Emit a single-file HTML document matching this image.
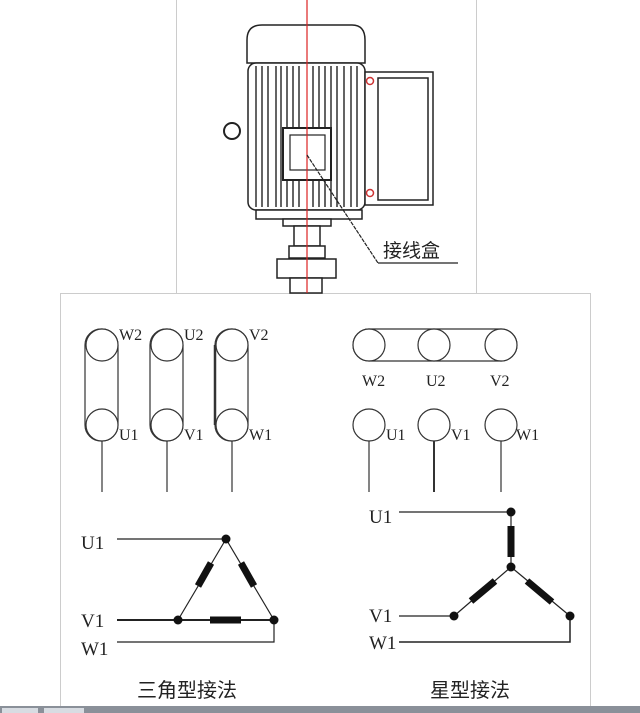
<!DOCTYPE html>
<html><head><meta charset="utf-8"><style>
html,body{margin:0;padding:0;background:#fff;width:640px;height:713px;overflow:hidden}
svg{display:block}
text{font-family:"Liberation Serif","Noto Serif CJK SC",serif;fill:#222}
.cj{font-family:"Liberation Sans","Noto Sans CJK SC",sans-serif}
</style></head><body>
<svg width="640" height="713" viewBox="0 0 640 713" xmlns="http://www.w3.org/2000/svg">
<g stroke="#ccc" stroke-width="1" fill="none">
<line x1="176.5" y1="0" x2="176.5" y2="293"/>
<line x1="476.5" y1="0" x2="476.5" y2="293"/>
<rect x="60.5" y="293.5" width="530" height="420"/>
</g>
<!-- motor -->
<g stroke="#222" stroke-width="1.5" fill="#fff">
<path d="M247 63 L247 40 Q247 25 262 25 L352 25 Q365 25 365 40 L365 63 Z"/>
<rect x="248" y="63" width="117" height="147" rx="8"/>
<rect x="256" y="210" width="106" height="9"/>
<rect x="283" y="219" width="48" height="7"/>
<rect x="294" y="226" width="26" height="20"/>
<rect x="289" y="246" width="36" height="12"/>
<rect x="277" y="259" width="59" height="19"/>
<rect x="290" y="278" width="32" height="15"/>
<rect x="365" y="72" width="68" height="133"/>
<rect x="378" y="78" width="50" height="122"/>
<circle cx="232" cy="131" r="8" stroke-width="2"/>
</g>
<g stroke="#222" stroke-width="1.4">
<line x1="256" y1="66" x2="256" y2="207"/><line x1="262" y1="66" x2="262" y2="207"/>
<line x1="268" y1="66" x2="268" y2="207"/><line x1="276" y1="66" x2="276" y2="207"/>
<line x1="281" y1="66" x2="281" y2="207"/><line x1="287" y1="66" x2="287" y2="207"/>
<line x1="293" y1="66" x2="293" y2="207"/><line x1="299" y1="66" x2="299" y2="207"/>
<line x1="313" y1="66" x2="313" y2="207"/><line x1="319" y1="66" x2="319" y2="207"/>
<line x1="325" y1="66" x2="325" y2="207"/><line x1="331" y1="66" x2="331" y2="207"/>
<line x1="337" y1="66" x2="337" y2="207"/><line x1="344" y1="66" x2="344" y2="207"/>
<line x1="351" y1="66" x2="351" y2="207"/><line x1="357" y1="66" x2="357" y2="207"/>
</g>
<rect x="283" y="128" width="48" height="52" fill="#fff" stroke="#222" stroke-width="2"/>
<rect x="290" y="135" width="35" height="35" fill="#fff" stroke="#222" stroke-width="1.2"/>
<line x1="307" y1="0" x2="307" y2="293" stroke="#d22" stroke-width="1.2"/>
<circle cx="370" cy="81" r="3.5" fill="none" stroke="#c33" stroke-width="1.5"/>
<circle cx="370" cy="193" r="3.5" fill="none" stroke="#c33" stroke-width="1.5"/>
<polyline points="307,155 378,263" fill="none" stroke="#222" stroke-width="1.2" stroke-dasharray="4,1"/>
<line x1="378" y1="263" x2="458" y2="263" stroke="#222" stroke-width="1.2"/>
<text x="383" y="257" font-size="19" class="cj">接线盒</text>
<!-- delta terminals -->
<g stroke="#333" stroke-width="1.2" fill="#fff">
<rect x="85" y="329" width="33" height="112" rx="16"/>
<rect x="150" y="329" width="33" height="112" rx="16"/>
<rect x="215" y="329" width="33" height="112" rx="16"/>
<circle cx="102" cy="345" r="16"/><circle cx="102" cy="425" r="16"/>
<circle cx="167" cy="345" r="16"/><circle cx="167" cy="425" r="16"/>
<circle cx="232" cy="345" r="16"/><circle cx="232" cy="425" r="16"/>
<line x1="102" y1="441" x2="102" y2="492"/>
<line x1="167" y1="441" x2="167" y2="492"/>
<line x1="232" y1="441" x2="232" y2="492"/>
<line x1="215" y1="345" x2="215" y2="425" stroke-width="2.5"/>
</g>
<g font-size="16">
<text x="119" y="340">W2</text><text x="184" y="340">U2</text><text x="249" y="340">V2</text>
<text x="119" y="440">U1</text><text x="184" y="440">V1</text><text x="249" y="440">W1</text>
</g>
<!-- star terminals -->
<g stroke="#333" stroke-width="1.2" fill="#fff">
<rect x="353" y="329" width="164" height="32" rx="16"/>
<circle cx="369" cy="345" r="16"/><circle cx="434" cy="345" r="16"/><circle cx="501" cy="345" r="16"/>
<circle cx="369" cy="425" r="16"/><circle cx="434" cy="425" r="16"/><circle cx="501" cy="425" r="16"/>
<line x1="369" y1="441" x2="369" y2="492"/>
<line x1="434" y1="441" x2="434" y2="492" stroke-width="2"/>
<line x1="501" y1="441" x2="501" y2="492"/>
</g>
<g font-size="16">
<text x="362" y="386">W2</text><text x="426" y="386">U2</text><text x="490" y="386">V2</text>
<text x="386" y="440">U1</text><text x="451" y="440">V1</text><text x="516" y="440">W1</text>
</g>
<g font-size="19">
<text x="81" y="549">U1</text><text x="81" y="627">V1</text><text x="81" y="655">W1</text>
<text x="369" y="523">U1</text><text x="369" y="622">V1</text><text x="369" y="649">W1</text>
</g>
<g stroke="#222" stroke-width="1.2" fill="none">
<line x1="117" y1="539" x2="226" y2="539"/>
<line x1="226" y1="539" x2="178" y2="620"/>
<line x1="226" y1="539" x2="274" y2="620"/>
<line x1="117" y1="620" x2="274" y2="620" stroke-width="2"/>
<polyline points="117,642 274,642 274,620"/>
<line x1="399" y1="512" x2="511" y2="512"/>
<line x1="511" y1="512" x2="511" y2="567"/>
<line x1="511" y1="567" x2="454" y2="616"/>
<line x1="511" y1="567" x2="570" y2="616"/>
<line x1="399" y1="616" x2="454" y2="616"/>
<polyline points="399,642 570,642 570,616" stroke-width="1.5"/>
</g>
<g stroke="#111" stroke-width="7" stroke-linecap="butt">
<line x1="211" y1="563" x2="198" y2="586"/>
<line x1="241" y1="563" x2="254" y2="586"/>
<line x1="210" y1="620" x2="241" y2="620"/>
<line x1="511" y1="526" x2="511" y2="557"/>
<line x1="495" y1="581" x2="471" y2="601"/>
<line x1="527" y1="581" x2="552" y2="602"/>
</g>
<g fill="#111">
<circle cx="226" cy="539" r="4.5"/><circle cx="178" cy="620" r="4.5"/><circle cx="274" cy="620" r="4.5"/>
<circle cx="511" cy="512" r="4.5"/><circle cx="511" cy="567" r="4.5"/><circle cx="454" cy="616" r="4.5"/><circle cx="570" cy="616" r="4.5"/>
</g>
<text x="137" y="697" font-size="20" class="cj">三角型接法</text>
<text x="430" y="697" font-size="20" class="cj">星型接法</text>
<rect x="0" y="706" width="640" height="7" fill="#8a9099"/>
<rect x="2" y="708" width="36" height="5" fill="#d8dce2"/>
<rect x="44" y="708" width="40" height="5" fill="#d8dce2"/>
</svg>
</body></html>
